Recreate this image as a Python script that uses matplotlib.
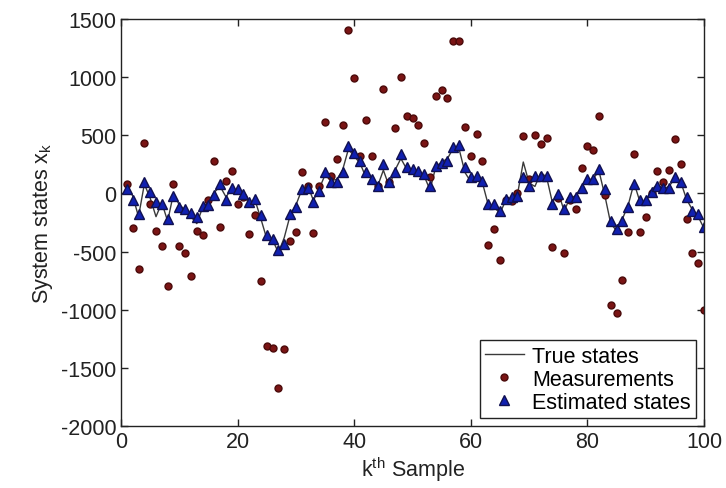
import numpy as np
import matplotlib
matplotlib.use('Agg')
import matplotlib.pyplot as plt

plt.rcParams['font.family'] = ['Liberation Sans', 'DejaVu Sans']
plt.rcParams['mathtext.fontset'] = 'custom'
plt.rcParams['mathtext.rm'] = 'Liberation Sans'
plt.rcParams['axes.unicode_minus'] = False

# sample index 1..100
k = np.arange(1, 101)

true_states = [50, -20, -200, 80, -40, -200, -80, -240, 0, -100,
               -140, -200, -260, -120, -70, 10, 60, -30, 40, 30,
               -10, -90, -60, -220, -390, -400, -510, -380, -190, -100,
               30, 70, -60, 40, 160, 110, 120, 200, 380, 320,
               260, 140, 140, 60, 200, 60, 200, 300, 210, 200,
               180, 150, 30, 230, 270, 300, 390, 380, 180, 100,
               150, 90, -100, -120, -170, -60, -50, -10, 270, 90,
               60, 180, 140, -80, 10, -150, -40, -20, 60, 110,
               130, 190, -20, -260, -320, -220, -100, 90, -70, -70,
               30, 80, 40, 60, 130, 100, -50, -140, -200, -300]

measurements = [80, -300, -650, 430, -90, -320, -450, -800, 80, -450,
                -510, -710, -320, -360, -60, 275, -285, 110, 195, -95,
                -30, -350, -185, -750, -1310, -1330, -1670, -1340, -410, -330,
                180, 65, -340, 60, 615, 150, 300, 590, 1405, 990,
                325, 635, 325, 60, 895, 100, 560, 1005, 670, 650,
                590, 430, 140, 835, 890, 825, 1310, 1310, 570, 325,
                510, 275, -445, -310, -570, -60, -65, 0, 490, 120,
                500, 425, 480, -465, -40, -510, -60, -135, 215, 405,
                370, 665, -10, -960, -1030, -745, -335, 340, -335, -200,
                0, 195, 95, 200, 470, 255, -220, -510, -600, -1005]

estimated = [38, -60, -175, 95, 10, -75, -95, -220, -20, -120,
             -135, -165, -205, -105, -100, -15, 80, -60, 50, 40,
             -5, -75, -50, -190, -360, -390, -490, -435, -175, -120,
             40, 50, -75, 25, 180, 95, 95, 180, 410, 350,
             280, 180, 125, 65, 250, 95, 180, 340, 225, 210,
             195, 165, 65, 240, 265, 280, 395, 420, 225, 140,
             150, 110, -90, -90, -150, -50, -35, -20, 140, 65,
             150, 150, 150, -90, -5, -135, -35, -35, 50, 125,
             125, 210, 40, -235, -305, -235, -120, 80, -60, -60,
             10, 65, 50, 50, 140, 95, -35, -150, -175, -290]

fig = plt.figure(figsize=(7.26, 4.89), dpi=100)
ax = fig.add_axes([0.1667, 0.127, 0.8030, 0.832])

ax.plot(k, true_states, '-', color='#3a3a3a', linewidth=1.0, label='True states')
ax.plot(k, measurements, 'o', color='#7a1414', markeredgecolor='#4a0a0a',
        markersize=5, linestyle='none', label='Measurements')
ax.plot(k, estimated, '^', color='#1020b0', markeredgecolor='#101050',
        markersize=7.5, linestyle='none', label='Estimated states')

ax.set_xlim(0, 100)
ax.set_ylim(-2000, 1500)
ax.set_xticks(np.arange(0, 101, 20))
ax.set_yticks(np.arange(-2000, 1501, 500))
ax.tick_params(direction='in', top=True, right=True, labelsize=15.5,
               length=5, width=1, colors='#222222')
for s in ax.spines.values():
    s.set_color('#222222')
    s.set_linewidth(1.0)

ax.set_xlabel(r'k$^{\mathregular{th}}$ Sample', fontsize=15.5, color='#222222', labelpad=2)
ax.set_ylabel(r'System states x$_{\mathregular{k}}$', fontsize=15.5, color='#222222', labelpad=4)

leg = ax.legend(loc='lower right', fontsize=15.5, fancybox=False, framealpha=1,
                edgecolor='#222222', borderpad=0.25, labelspacing=0.1,
                handlelength=1.8, handletextpad=0.4, borderaxespad=0.35)
leg.get_frame().set_linewidth(1.0)

fig.savefig('out.png', dpi=100)
